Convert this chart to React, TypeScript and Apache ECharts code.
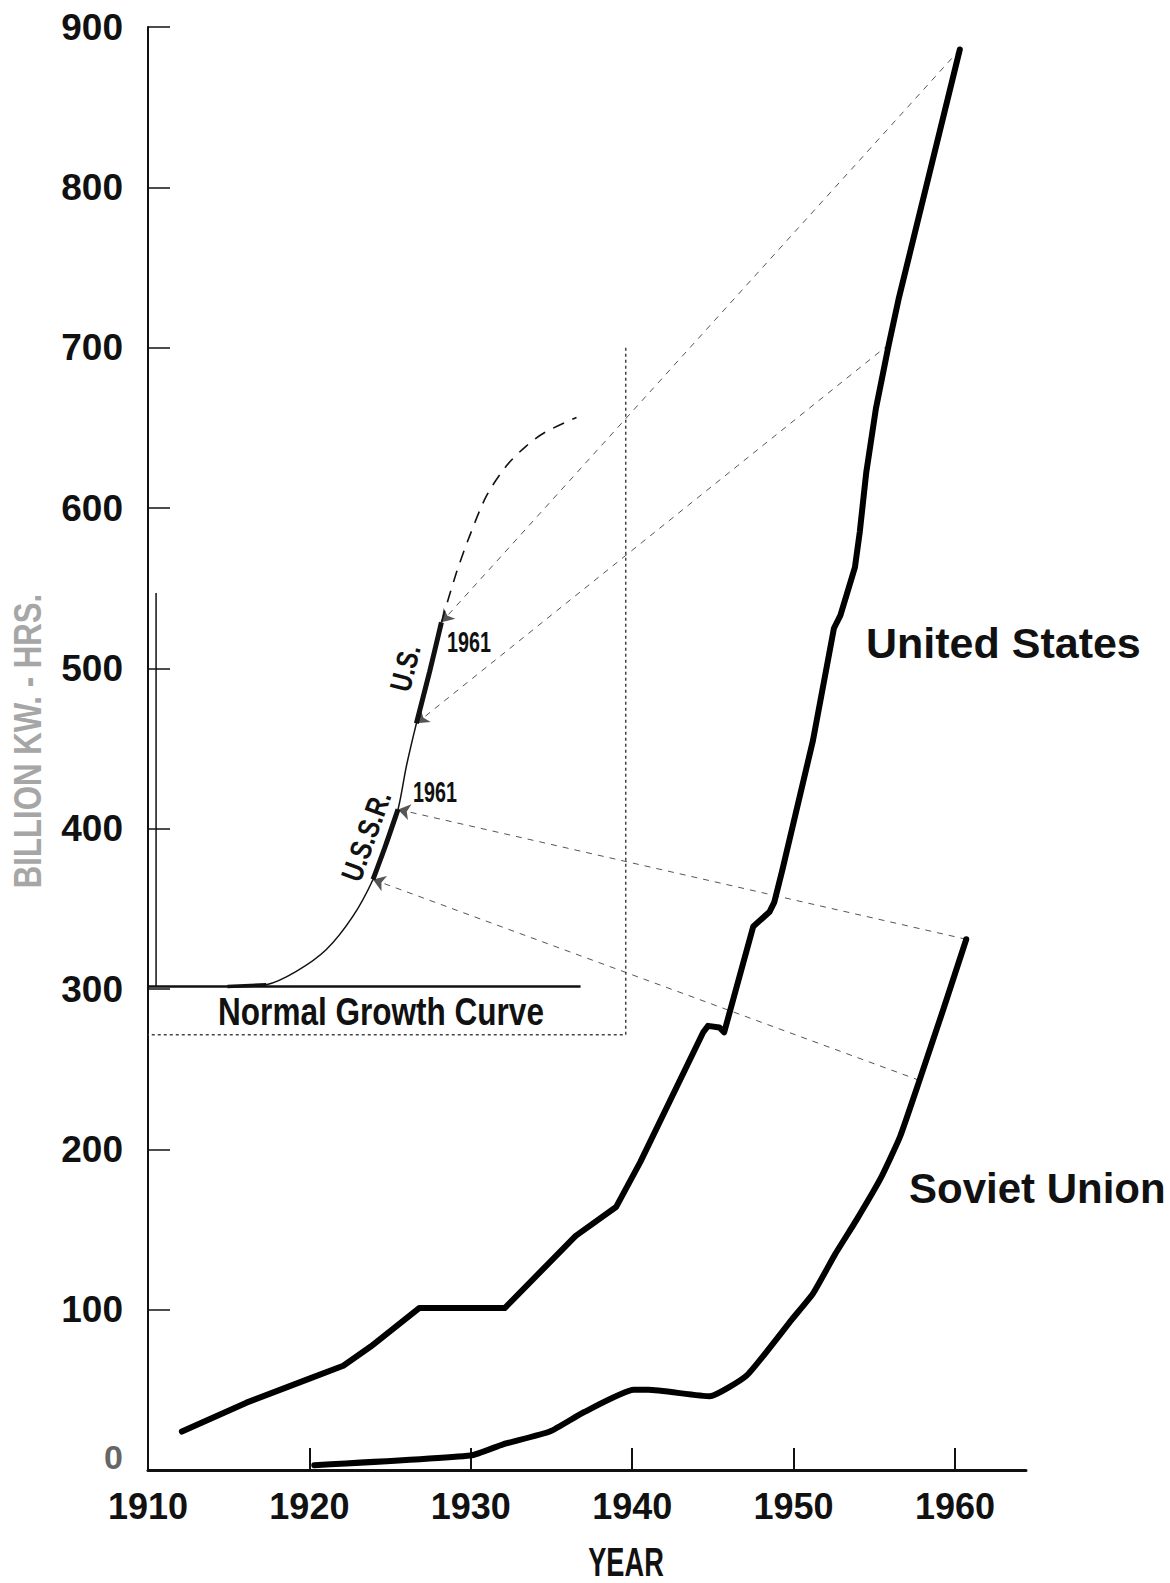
import React, { useEffect, useRef } from 'react';
import * as echarts from 'echarts';

// ---------- data (year, billion kWh) ----------
const YEAR_LABELS = [1910, 1920, 1930, 1940, 1950, 1960];
const YEAR_TICKS = [1920, 1930, 1940, 1950, 1960];

const US_OUTPUT: [number, number][] = [
  [1912.1, 24], [1916.1, 42], [1920, 57], [1922.1, 65], [1923.8, 77],
  [1926.8, 101], [1932.1, 101], [1936.5, 146], [1939.0, 164], [1940.5, 192],
  [1944.4, 273], [1944.7, 277], [1945.4, 276], [1945.7, 273], [1947.5, 339],
  [1948.5, 348], [1948.8, 354], [1949.3, 374], [1951.2, 455], [1952.5, 525],
  [1952.9, 533], [1953.8, 563], [1954.1, 585], [1954.5, 622], [1955.1, 662],
  [1955.9, 702], [1956.5, 730], [1960.3, 886],
];

const USSR_OUTPUT: [number, number][] = [
  [1920.3, 3], [1930.0, 9], [1932.0, 16], [1934.9, 24], [1937.0, 36],
  [1940.1, 50], [1941.0, 50], [1944.8, 46], [1947.1, 59], [1949.9, 94],
  [1951.2, 110], [1952.6, 135], [1953.9, 156], [1955.4, 182], [1956.6, 208],
  [1957.8, 243], [1959.3, 288], [1960.7, 331],
];

// ---------- inset "Normal Growth Curve" (drawn in the same axes) ----------
const NORMAL_CURVE_LOWER: [number, number][] = [
  [1914.93, 301.5], [1917.33, 302.7], [1919.19, 311], [1921.05, 324.6],
  [1922.7, 345.4], [1923.94, 368.3], [1924.72, 389.5], [1925.49, 412],
  [1926.01, 439], [1926.63, 465.7], [1927.45, 498], [1928.18, 528.7],
];
const NORMAL_CURVE_UPPER: [number, number][] = [
  [1928.18, 528.7], [1929.11, 559.7], [1929.93, 582.6], [1930.97, 607.5],
  [1932.21, 626.3], [1933.45, 638.8], [1934.58, 647.1], [1936.55, 656.5],
];
const NORMAL_BASE_SEGMENT: [number, number][] = [[1914.93, 301.5], [1917.33, 302.7]];
const NORMAL_USSR_SEGMENT: [number, number][] = [[1923.94, 368.3], [1924.72, 389.5], [1925.49, 412]];
const NORMAL_US_SEGMENT: [number, number][] = [[1926.63, 465.7], [1927.45, 498], [1928.18, 528.7]];

const INSET_BASELINE: [number, number][] = [[1910, 301.5], [1936.8, 301.5]];
const INSET_LEFT_LINE: [number, number][] = [[1910.5, 547], [1910.5, 301.5]];
const INSET_FRAME: [number, number][] = [[1939.6, 700], [1939.6, 271.5], [1910, 271.5]];

// connectors: actual curve point -> point on the normal growth curve
const CONNECTORS: [number, number][][] = [
  [US_OUTPUT[US_OUTPUT.length - 1], NORMAL_US_SEGMENT[NORMAL_US_SEGMENT.length - 1]],
  [[1955.9, 702], NORMAL_US_SEGMENT[0]],
  [USSR_OUTPUT[USSR_OUTPUT.length - 1], NORMAL_USSR_SEGMENT[NORMAL_USSR_SEGMENT.length - 1]],
  [[1957.8, 243], NORMAL_USSR_SEGMENT[0]],
];

const FONT = '"Liberation Sans", Arial, sans-serif';

function txt(
  text: string, x: number, y: number, size: number,
  opts: { align?: string; rotation?: number; fill?: string; scaleX?: number } = {}
) {
  return {
    type: 'text',
    x, y,
    rotation: opts.rotation || 0,
    scaleX: opts.scaleX || 1,
    z: 20,
    style: {
      text,
      x: 0, y: 0,
      fill: opts.fill || '#111',
      fontSize: size,
      fontWeight: 'bold',
      fontFamily: FONT,
      align: opts.align || 'left',
      verticalAlign: 'middle',
    },
  };
}

export default function App() {
  const ref = useRef<HTMLDivElement>(null);

  useEffect(() => {
    if (!ref.current) return;
    const chart = echarts.init(ref.current, null, { renderer: 'svg' });

    const thin = (data: [number, number][], style: any, z = 3, smooth: any = false) => ({
      type: 'line', data, showSymbol: false, symbol: 'none', smooth, z, clip: false,
      lineStyle: { color: '#111', width: 1.5, ...style }, silent: true,
    });

    const option: any = {
      animation: false,
      backgroundColor: '#fff',
      grid: { left: 148, right: 144, top: 27, bottom: 113, containLabel: false },
      xAxis: {
        type: 'value', min: 1910, max: 1964.4,
        axisLine: { show: true, lineStyle: { color: '#111', width: 3 } },
        axisTick: { show: true, inside: true, length: 22, customValues: YEAR_TICKS, lineStyle: { color: '#111', width: 2 } },
        axisLabel: {
          customValues: YEAR_LABELS, color: '#111', fontSize: 36, fontWeight: 'bold',
          fontFamily: FONT, margin: 18, formatter: (v: number) => String(v),
        },
        splitLine: { show: false },
      },
      yAxis: {
        type: 'value', min: 0, max: 900, interval: 100,
        axisLine: { show: true, lineStyle: { color: '#111', width: 2 } },
        axisTick: { show: true, inside: true, length: 22, lineStyle: { color: '#111', width: 1.5 } },
        axisLabel: {
          color: '#111', fontSize: 37, fontWeight: 'bold', fontFamily: FONT, margin: 25,
          formatter: (v: number) => (v === 0 ? '{zero|0}' : String(v)),
          rich: {
            zero: { fontSize: 34, fontWeight: 'bold', fontFamily: FONT, color: '#666', padding: [0, 0, 26, 0] },
          },
        },
        splitLine: { show: false },
      },
      series: [
        thin(INSET_FRAME, { color: '#444', width: 1.5, type: [3, 3] }),
        thin(INSET_BASELINE, { width: 2.5 }),
        thin(INSET_LEFT_LINE, { width: 1.5 }),
        thin(NORMAL_CURVE_LOWER, { width: 1.5 }, 3, 0.3),
        thin(NORMAL_CURVE_UPPER, { width: 1.6, type: [12, 9] }, 3, 0.3),
        thin(NORMAL_BASE_SEGMENT, { width: 3.5 }),
        thin(NORMAL_USSR_SEGMENT, { width: 5 }, 4, 0.3),
        thin(NORMAL_US_SEGMENT, { width: 5 }, 4, 0.3),
        {
          type: 'lines', coordinateSystem: 'cartesian2d', z: 2, silent: true,
          symbol: ['none', 'arrow'], symbolSize: [1, 12],
          lineStyle: { color: '#555', width: 1, type: [6, 6], opacity: 1 },
          data: CONNECTORS.map((c) => ({ coords: c })),
        },
        {
          type: 'line', name: 'United States', data: US_OUTPUT, showSymbol: false, symbol: 'none', z: 6,
          lineStyle: { color: '#000', width: 6, join: 'round', cap: 'round' },
        },
        {
          type: 'line', name: 'Soviet Union', data: USSR_OUTPUT, showSymbol: false, symbol: 'none', z: 6,
          smooth: 0.15,
          lineStyle: { color: '#000', width: 6, join: 'round', cap: 'round' },
        },
      ],
      graphic: [
        txt('United States', 866, 643, 43),
        txt('Soviet Union', 909, 1188, 42),
        txt('Normal Growth Curve', 381, 1011, 38, { align: 'center', scaleX: 0.83 }),
        txt('1961', 447, 642, 29, { scaleX: 0.68 }),
        txt('1961', 413, 792, 29, { scaleX: 0.68 }),
        txt('U.S.', 405, 668, 30, { align: 'center', rotation: (76 * Math.PI) / 180, scaleX: 0.8 }),
        txt('U.S.S.R.', 366, 836, 30, { align: 'center', rotation: (70 * Math.PI) / 180, scaleX: 0.8 }),
        txt('YEAR', 626, 1562, 40, { align: 'center', scaleX: 0.68 }),
        txt('BILLION KW. - HRS.', 27, 741, 39, { align: 'center', rotation: Math.PI / 2, fill: '#a6a6a6', scaleX: 0.8 }),
      ],
    };

    chart.setOption(option);
    return () => chart.dispose();
  }, []);

  return (
    <div
      ref={ref}
      style={{ position: 'absolute', left: 0, top: 0, width: 1170, height: 1583, background: '#fff' }}
    />
  );
}
